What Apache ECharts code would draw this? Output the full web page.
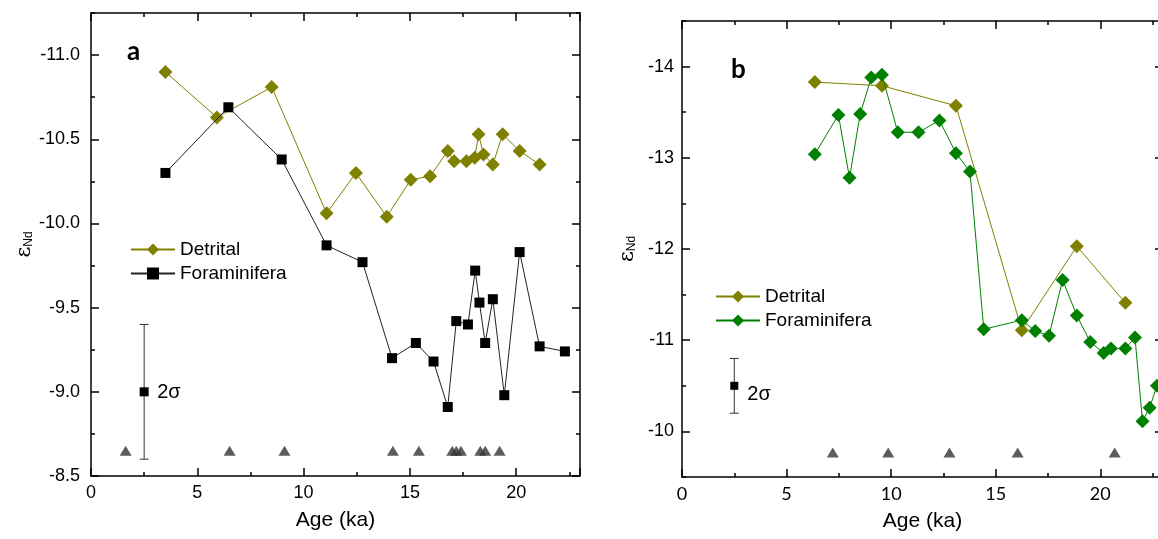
<!DOCTYPE html>
<html>
<head>
<meta charset="utf-8">
<script src="https://cdn.jsdelivr.net/npm/echarts@6/dist/echarts.min.js"></script>
<style>
html,body{margin:0;padding:0;background:#fff;}
#chart{width:1158px;height:539px;}
</style>
</head>
<body>
<div id="chart"></div>
<script>
// ---------- Data ----------
// Panel a
const ageDetA = [3.5, 5.92, 8.5, 11.08, 12.46, 13.91, 15.04, 15.95, 16.78, 17.08, 17.66, 18.05, 18.23, 18.46, 18.90, 19.36, 20.16, 21.10];
const endDetA = [-10.90, -10.63, -10.81, -10.06, -10.30, -10.04, -10.26, -10.28, -10.43, -10.37, -10.37, -10.39, -10.53, -10.41, -10.35, -10.53, -10.43, -10.35];
const ageForA = [3.5, 6.46, 8.97, 11.08, 12.77, 14.16, 15.28, 16.11, 16.78, 17.18, 17.73, 18.07, 18.27, 18.54, 18.90, 19.44, 20.16, 21.10, 22.29];
const endForA = [-10.30, -10.69, -10.38, -9.87, -9.77, -9.20, -9.29, -9.18, -8.91, -9.42, -9.40, -9.72, -9.53, -9.29, -9.55, -8.98, -9.83, -9.27, -9.24];
const ageTriA = [1.63, 6.52, 9.1, 14.2, 15.42, 16.99, 17.18, 17.4, 18.31, 18.54, 19.22];
const valTriA = -8.65;
const errA = [2.5, -9.0, 0.4];
// Panel b
const ageDetB = [6.35, 9.56, 13.1, 16.25, 18.88, 21.2];
const endDetB = [-13.83, -13.79, -13.57, -11.11, -12.03, -11.41];
const ageForB = [6.35, 7.48, 8.01, 8.52, 9.05, 9.56, 10.32, 11.31, 12.31, 13.1, 13.77, 14.43, 16.25, 16.89, 17.55, 18.2, 18.88, 19.52, 20.16, 20.51, 21.2, 21.66, 22.02, 22.36, 22.71];
const endForB = [-13.04, -13.47, -12.78, -13.48, -13.88, -13.91, -13.28, -13.28, -13.41, -13.05, -12.85, -11.12, -11.22, -11.10, -11.05, -11.66, -11.27, -10.98, -10.86, -10.91, -10.91, -11.03, -10.11, -10.26, -10.50];
const ageTriB = [7.21, 9.86, 12.79, 16.05, 20.69];
const valTriB = -9.77;
const errB = [2.5, -10.5, 0.3];
// Ticks
const xMajor = [0, 5, 10, 15, 20];
const yMajorA = [-11.0, -10.5, -10.0, -9.5, -9.0, -8.5];
const yMajorB = [-14, -13, -12, -11, -10];

// ---------- Styles ----------
const FONT = 'Liberation Sans, Arial, sans-serif';
const OLIVE = '#808000', GREEN = '#008000', TRI = '#333333';
const zip = (a, b) => a.map((v, i) => [v, Array.isArray(b) ? b[i] : b]);

function xAxes(grid, max, pos, labels, labelFont) {
  const base = {gridIndex: grid, type: 'value', min: 0, max: max, position: pos,
    splitLine: {show: false}};
  return [
    Object.assign({}, base, {
      interval: 2.5,
      axisLine: {show: true, onZero: false, lineStyle: {color: '#000', width: 1.5}},
      axisTick: {show: true, inside: true, length: 4, lineStyle: {color: '#000', width: 1.5}},
      axisLabel: {show: labels, margin: 8, fontSize: 18, fontFamily: labelFont, color: '#000',
        formatter: v => (xMajor.some(m => Math.abs(m - v) < 1e-6)) ? String(v) : ''},
      name: labels ? 'Age (ka)' : '', nameLocation: 'middle', nameGap: 34,
      nameTextStyle: {fontSize: 21, fontFamily: FONT, color: '#000'}
    }),
    Object.assign({}, base, {
      interval: 5,
      axisLine: {show: false, onZero: false},
      axisTick: {show: true, inside: true, length: 8, lineStyle: {color: '#000', width: 1.5}},
      axisLabel: {show: false}
    })
  ];
}
function yAxes(grid, min, max, interval, majors, pos, labels, margin) {
  const base = {gridIndex: grid, type: 'value', min: min, max: max, inverse: true, position: pos,
    splitLine: {show: false}};
  const isMajor = v => majors.some(m => Math.abs(m - v) < 1e-6);
  return [
    Object.assign({}, base, {
      interval: interval,
      axisLine: {show: true, onZero: false, lineStyle: {color: '#000', width: 1.5}},
      axisTick: {show: true, inside: true, length: 4, lineStyle: {color: '#000', width: 1.5}},
      axisLabel: {show: labels, margin: margin, fontSize: 18, fontFamily: FONT, color: '#000',
        formatter: v => isMajor(v) ? (grid === 0 ? v.toFixed(1) : String(Math.round(v))) : ''},
      name: labels ? '{e|ε}{s|Nd}' : '', nameLocation: 'middle', nameGap: grid === 0 ? 56 : 44, nameRotate: 90,
      nameTextStyle: {rich: {
        e: {fontSize: 21, fontFamily: 'DejaVu Serif, serif', color: '#000'},
        s: {fontSize: 12, fontFamily: FONT, color: '#000', verticalAlign: 'bottom', padding: [9, 0, 0, 0]}
      }}
    }),
    Object.assign({}, base, {
      axisLine: {show: false, onZero: false},
      axisTick: {show: true, inside: true, length: 8, customValues: majors, lineStyle: {color: '#000', width: 1.5}},
      axisLabel: {show: false}
    })
  ];
}

const xAxis = [].concat(
  xAxes(0, 23, 'bottom', true, FONT), xAxes(0, 23, 'top', false, FONT),
  xAxes(1, 23, 'bottom', true, 'Lato, ' + FONT), xAxes(1, 23, 'top', false, FONT)
);
const yAxis = [].concat(
  yAxes(0, -11.25, -8.5, 0.25, yMajorA, 'left', true, 11), yAxes(0, -11.25, -8.5, 0.25, yMajorA, 'right', false, 11),
  yAxes(1, -14.5, -9.5, 0.5, yMajorB, 'left', true, 8), yAxes(1, -14.5, -9.5, 0.5, yMajorB, 'right', false, 8)
);

function errBar(dy, sq) {
  return function (params, api) {
    const x = api.value(0), y = api.value(1), e = api.value(2);
    const t = api.coord([x, y - e]), b = api.coord([x, y + e]), c = api.coord([x, y]);
    const cap = 4.5, st = {stroke: '#333', lineWidth: 1};
    return {type: 'group', children: [
      {type: 'line', shape: {x1: t[0], y1: t[1], x2: b[0], y2: b[1]}, style: st},
      {type: 'line', shape: {x1: t[0] - cap, y1: t[1], x2: t[0] + cap, y2: t[1]}, style: st},
      {type: 'line', shape: {x1: b[0] - cap, y1: b[1], x2: b[0] + cap, y2: b[1]}, style: st},
      {type: 'rect', shape: {x: c[0] - sq / 2, y: c[1] - sq / 2, width: sq, height: sq}, style: {fill: '#000'}},
      {type: 'text', x: c[0] + 13, y: c[1] + dy, style: {text: '2σ', fontSize: 20, fontFamily: FONT, fill: '#000', verticalAlign: 'middle', align: 'left'}}
    ]};
  };
}

const legendBase = {orient: 'vertical', itemWidth: 44, itemHeight: 15, itemGap: 5, padding: 0,
  textStyle: {fontSize: 19, fontFamily: FONT, color: '#000'}, selectedMode: false,
  formatter: n => n.replace(' (b)', '')};

const option = {
  backgroundColor: '#fff',
  animation: false,
  grid: [
    {left: 91, top: 13, width: 489, height: 463, outerBoundsMode: 'none', containLabel: false},
    {left: 682, top: 21, width: 481, height: 456, outerBoundsMode: 'none', containLabel: false}
  ],
  xAxis: xAxis,
  yAxis: yAxis,
  legend: [
    Object.assign({}, legendBase, {data: ['Detrital', 'Foraminifera'], left: 130, top: 240}),
    Object.assign({}, legendBase, {data: ['Detrital (b)', 'Foraminifera (b)'], left: 715, top: 287})
  ],
  graphic: [
    {type: 'text', left: 127, top: 39, style: {text: 'a', fontSize: 26, fontWeight: 'bold', fontFamily: 'Lato, ' + FONT, fill: '#000'}},
    {type: 'text', left: 731, top: 57, style: {text: 'b', fontSize: 26, fontWeight: 'bold', fontFamily: 'Lato, ' + FONT, fill: '#000'}}
  ],
  series: [
    {name: 'Detrital', type: 'line', xAxisIndex: 0, yAxisIndex: 0, data: zip(ageDetA, endDetA),
      symbol: 'diamond', symbolSize: 14, itemStyle: {color: OLIVE}, lineStyle: {color: OLIVE, width: 1}, z: 3},
    {name: 'Foraminifera', type: 'line', xAxisIndex: 0, yAxisIndex: 0, data: zip(ageForA, endForA),
      symbol: 'rect', symbolSize: 10, itemStyle: {color: '#000'}, lineStyle: {color: '#222', width: 1}, z: 4},
    {name: 'triA', type: 'scatter', xAxisIndex: 0, yAxisIndex: 0, data: zip(ageTriA, valTriA),
      symbol: 'triangle', symbolSize: [12, 10], itemStyle: {color: TRI}},
    {name: 'errA', type: 'custom', xAxisIndex: 0, yAxisIndex: 0, data: [errA], renderItem: errBar(1, 9)},
    {name: 'Detrital (b)', type: 'line', xAxisIndex: 4, yAxisIndex: 4, data: zip(ageDetB, endDetB),
      symbol: 'diamond', symbolSize: 14, itemStyle: {color: OLIVE}, lineStyle: {color: OLIVE, width: 1}, z: 3},
    {name: 'Foraminifera (b)', type: 'line', xAxisIndex: 4, yAxisIndex: 4, data: zip(ageForB, endForB),
      symbol: 'diamond', symbolSize: 14, itemStyle: {color: GREEN}, lineStyle: {color: GREEN, width: 1}, z: 4},
    {name: 'triB', type: 'scatter', xAxisIndex: 4, yAxisIndex: 4, data: zip(ageTriB, valTriB),
      symbol: 'triangle', symbolSize: [12, 10], itemStyle: {color: TRI}},
    {name: 'errB', type: 'custom', xAxisIndex: 4, yAxisIndex: 4, data: [errB], renderItem: errBar(9, 8)}
  ]
};

const chart = echarts.init(document.getElementById('chart'), null, {renderer: 'canvas'});
chart.setOption(option);
</script>
</body>
</html>
